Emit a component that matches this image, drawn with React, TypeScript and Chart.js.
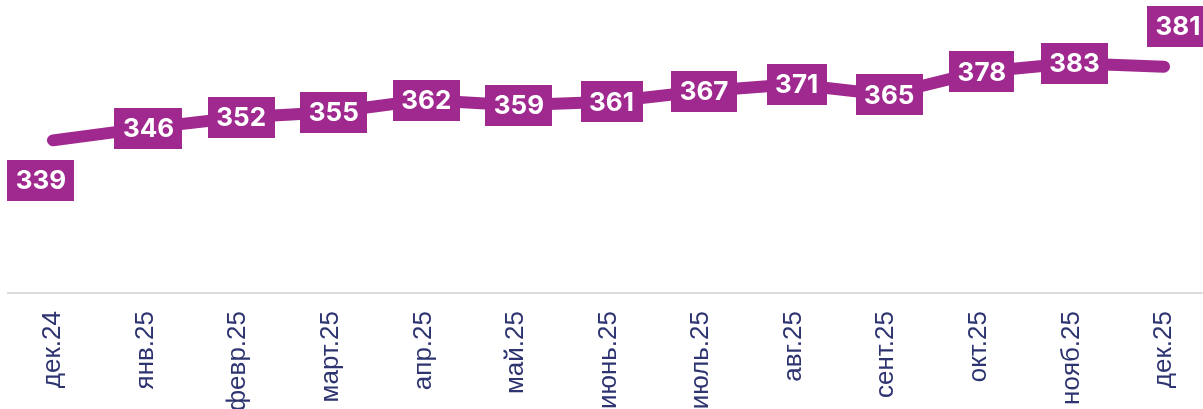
import React, { useEffect, useRef } from "react";
import { Chart, registerables } from "chart.js";

Chart.register(...registerables);

const categories = [
  "дек.24", "янв.25", "февр.25", "март.25", "апр.25", "май.25", "июнь.25",
  "июль.25", "авг.25", "сент.25", "окт.25", "нояб.25", "дек.25",
];
const values = [339, 346, 352, 355, 362, 359, 361, 367, 371, 365, 378, 383, 381];

const yMin = 252;
const yMax = 419;

const PURPLE = "#a0298f";
const NAVY = "#2d3470";

const axisLinePlugin = {
  id: "axisLine",
  beforeDatasetsDraw(chart: any) {
    const { ctx, chartArea, width } = chart;
    ctx.save();
    ctx.fillStyle = "#dcdcdc";
    ctx.fillRect(7, chartArea.bottom - 1, width - 7, 2);
    ctx.restore();
  },
};

const labelPlugin = {
  id: "valueLabels",
  afterDatasetsDraw(chart: any) {
    const { ctx } = chart;
    const meta = chart.getDatasetMeta(0);
    const data = chart.data.datasets[0].data as number[];
    ctx.save();
    ctx.font = "700 26px Inter, 'Liberation Sans', Arial, sans-serif";
    ctx.textAlign = "center";
    ctx.textBaseline = "middle";
    const n = data.length;
    meta.data.forEach((pt: any, i: number) => {
      const text = String(data[i]);
      const tw = ctx.measureText(text).width;
      const w = tw + 17;
      const h = 41;
      let cx = pt.x + 3;
      let cy = pt.y;
      if (i === 0) {
        cx = pt.x - 12;
        cy += 40;
      } else if (i === n - 1) {
        cx = pt.x + 14;
        cy -= 40;
      }
      ctx.fillStyle = PURPLE;
      ctx.fillRect(Math.round(cx - w / 2), Math.round(cy - h / 2), Math.round(w), h);
      ctx.fillStyle = "#ffffff";
      ctx.fillText(text, cx, cy + 1);
    });
    ctx.restore();
  },
};

export default function App() {
  const canvasRef = useRef<HTMLCanvasElement | null>(null);

  useEffect(() => {
    if (!canvasRef.current) return;
    const chart = new Chart(canvasRef.current, {
      type: "line",
      data: {
        labels: categories,
        datasets: [
          {
            data: values,
            borderColor: PURPLE,
            borderWidth: 12,
            borderCapStyle: "round",
            borderJoinStyle: "round",
            pointRadius: 0,
            pointHoverRadius: 0,
            tension: 0,
            fill: false,
          },
        ],
      },
      options: {
        animation: false,
        responsive: true,
        maintainAspectRatio: false,
        layout: { padding: { left: 53, right: 39, top: 0, bottom: 0 } },
        plugins: {
          legend: { display: false },
          tooltip: { enabled: false },
          title: { display: false },
        },
        scales: {
          x: {
            offset: false,
            grid: { display: false, drawTicks: false },
            border: { display: false },
            ticks: {
              autoSkip: false,
              maxRotation: 90,
              minRotation: 90,
              padding: 18,
              color: NAVY,
              font: { family: "'Liberation Sans', Arial, sans-serif", size: 26 },
            },
            afterFit(scale: any) {
              scale.height = 116;
              scale.paddingLeft = 0;
              scale.paddingRight = 0;
            },
          },
          y: {
            display: false,
            min: yMin,
            max: yMax,
          },
        },
      },
      plugins: [axisLinePlugin, labelPlugin],
    });
    return () => chart.destroy();
  }, []);

  return (
    <div style={{ position: "absolute", left: 0, top: 0, width: 1203, height: 409, background: "#fff" }}>
      <canvas ref={canvasRef} />
    </div>
  );
}
